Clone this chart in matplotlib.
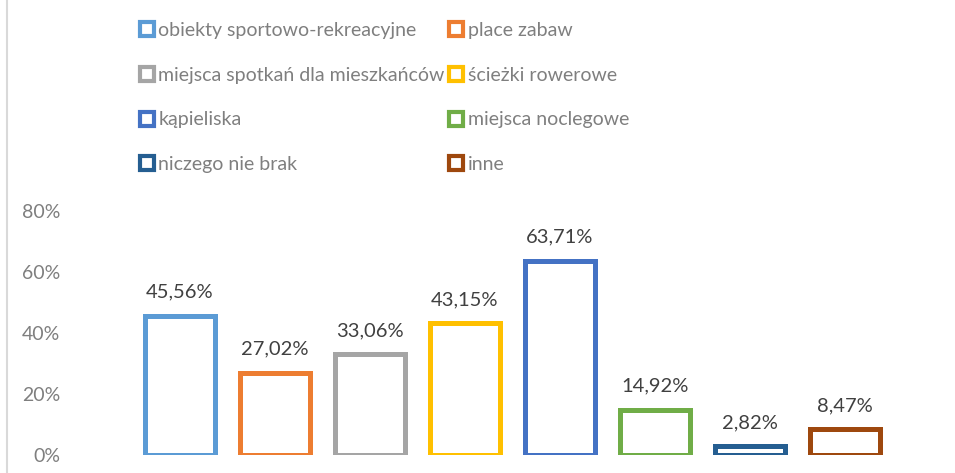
import matplotlib
matplotlib.use("Agg")
import matplotlib.pyplot as plt
from matplotlib.lines import Line2D
from matplotlib.ticker import PercentFormatter

plt.rcParams['font.family'] = ['Lato', 'DejaVu Sans']

# data
categories = ['obiekty sportowo-rekreacyjne', 'place zabaw',
              'miejsca spotkań dla mieszkańców', 'ścieżki rowerowe',
              'kąpieliska', 'miejsca noclegowe', 'niczego nie brak', 'inne']
values = [45.56, 27.02, 33.06, 43.15, 63.71, 14.92, 2.82, 8.47]
colors = ['#5B9BD5', '#ED7D31', '#A5A5A5', '#FFC000',
          '#4472C4', '#70AD47', '#255E91', '#9E480E']
yticks = [0, 20, 40, 60, 80]

fig = plt.figure(figsize=(9.55, 4.73), dpi=100)
ax = fig.add_axes([0.1387, 0.038, 0.7959, 0.516])

for i, (cat, v, c) in enumerate(zip(categories, values, colors)):
    ax.bar(i, v, width=0.74, facecolor='white', edgecolor=c,
           linewidth=3.6, label=cat)
    ax.annotate(f'{v:.2f}%'.replace('.', ','), (i, v),
                xytext=(0, 11), textcoords='offset points',
                ha='center', va='bottom', fontsize=14.5, color='#404040')

ax.set_xlim(-0.5, len(values) - 0.5)
ax.set_ylim(0, 80)
ax.set_yticks(yticks)
ax.yaxis.set_major_formatter(PercentFormatter(decimals=0))
ax.tick_params(axis='y', length=0, pad=52, labelsize=14, labelcolor='#7F7F7F')
ax.set_xticks([])
for s in ax.spines.values():
    s.set_visible(False)

# legend, row-wise order in 2 columns
order = [0, 2, 4, 6, 1, 3, 5, 7]
handles = [Line2D([], [], marker='s', linestyle='none', markersize=10.5,
                  markerfacecolor='white', markeredgecolor=colors[i],
                  markeredgewidth=3) for i in order]
labels = [categories[i] for i in order]
fig.legend(handles, labels, ncol=2, loc='upper left',
           bbox_to_anchor=(0.126, 0.99), frameon=False, fontsize=14,
           labelcolor='#7F7F7F', handlelength=0.9, handletextpad=0.15,
           columnspacing=0.15, labelspacing=1.42)

# chart border on left
fig.add_artist(Line2D([0.0073, 0.0073], [0, 1], color='#D9D9D9', linewidth=1.5))

fig.savefig('out.png', dpi=100)
